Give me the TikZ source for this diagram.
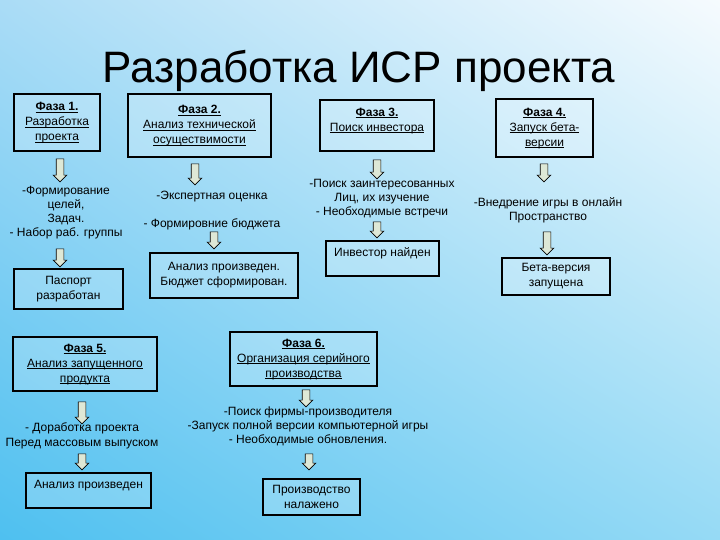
\documentclass[tikz,border=0pt]{standalone}
\usepackage{fontspec}
\setmainfont{Liberation Sans}
\usetikzlibrary{shapes.arrows,shadings}
\definecolor{arrowfill}{RGB}{222,232,214}
\definecolor{bgA}{RGB}{170,220,246}
\definecolor{bgB}{RGB}{246,251,254}
\definecolor{bgC}{RGB}{78,192,240}
\definecolor{bgD}{RGB}{150,218,245}
\newcommand\myul[1]{\underline{\raisebox{0pt}[\height][0pt]{#1}}}
\begin{document}
\begin{tikzpicture}[x=1pt,y=-1pt,
  box/.style={draw=black, line width=1.8pt, fill=white, fill opacity=0.2, text opacity=1,
    align=center, font=\fontsize{12}{15}\selectfont, inner sep=1pt},
  txt/.style={align=center, font=\fontsize{12}{14}\selectfont, inner sep=0pt},
  hollowdown/.style={single arrow, draw=black, line width=0.6pt, fill=arrowfill, rotate=-90,
    single arrow head extend=3pt, inner sep=3.5pt, single arrow tip angle=90, minimum height=#1},
]
\useasboundingbox (0,0) rectangle (720,540);
\shade[upper left=bgA, upper right=bgB, lower left=bgC, lower right=bgD] (0,0) rectangle (720,540);

\node[font=\fontsize{44}{50}\selectfont, anchor=base] (title) at (359,83) {Разработка ИСР проекта};

% phase boxes
\node[box, minimum width=86, minimum height=57] (p1) at (57,122.5)
  {\myul{\textbf{Фаза 1.}}\\\myul{Разработка}\\\myul{проекта}};
\node[box, minimum width=143, minimum height=63] (p2) at (199.5,125.5)
  {\myul{\textbf{Фаза 2.}}\\\myul{Анализ технической}\\\myul{осуществимости}};
\node[box, minimum width=114, minimum height=51, text depth=12pt] (p3) at (377,125.5)
  {\myul{\textbf{Фаза 3.}}\\\myul{Поиск инвестора}};
\node[box, minimum width=97, minimum height=58] (p4) at (544.5,128)
  {\myul{\textbf{Фаза 4.}}\\\myul{Запуск бета-}\\\myul{версии}};
\node[box, minimum width=144, minimum height=54] (p5) at (85,364)
  {\myul{\textbf{Фаза 5.}}\\\myul{Анализ запущенного}\\\myul{продукта}};
\node[box, minimum width=147, minimum height=54] (p6) at (303.5,359)
  {\myul{\textbf{Фаза 6.}}\\\myul{Организация серийного}\\\myul{производства}};

% result boxes
\node[box, minimum width=109, minimum height=40] (r1) at (68.5,289) {Паспорт\\разработан};
\node[box, minimum width=148, minimum height=45] (r2) at (224,275.5) {Анализ произведен.\\Бюджет сформирован.};
\node[box, minimum width=113, minimum height=35, text depth=13pt] (r3) at (382.5,258.5) {Инвестор найден};
\node[box, minimum width=108, minimum height=37] (r4) at (556,276.5) {Бета-версия\\запущена};
\node[box, minimum width=125, minimum height=35, text depth=13pt] (r5) at (88.5,490.5) {Анализ произведен};
\node[box, minimum width=97, minimum height=36] (r6) at (311.5,497) {Производство\\налажено};

% task texts
\node[txt] (t1) at (66,213) {-Формирование\\целей,\\Задач.\\- Набор раб. группы};
\node[txt] (t2) at (212,211) {-Экспертная оценка\\[14pt]- Формировние бюджета};
\node[txt] (t3) at (382,199) {-Поиск заинтересованных\\Лиц, их изучение\\- Необходимые встречи};
\node[txt] (t4) at (548,210) {-Внедрение игры в онлайн\\Пространство};
\node[txt, font=\fontsize{12}{15}\selectfont] (t5) at (82,435.5) {- Доработка проекта\\Перед массовым выпуском};
\node[txt] (t6) at (308,426) {-Поиск фирмы-производителя\\-Запуск полной версии компьютерной игры\\- Необходимые обновления.};

% hollow arrows
\node[hollowdown=23] (a1) at (60,168.5) {};
\node[hollowdown=18] (a1b) at (60,256) {};
\node[hollowdown=21] (a2) at (195,172.5) {};
\node[hollowdown=17] (a2b) at (214,238.5) {};
\node[hollowdown=19] (a3) at (377,167.5) {};
\node[hollowdown=16] (a3b) at (377,228) {};
\node[hollowdown=18] (a4) at (544,171) {};
\node[hollowdown=23] (a4b) at (547,241.5) {};
\node[hollowdown=22] (a5) at (82,411) {};
\node[hollowdown=16] (a5b) at (82,460) {};
\node[hollowdown=17] (a6) at (306,396.5) {};
\node[hollowdown=16] (a6b) at (309,460) {};
\end{tikzpicture}
\end{document}
